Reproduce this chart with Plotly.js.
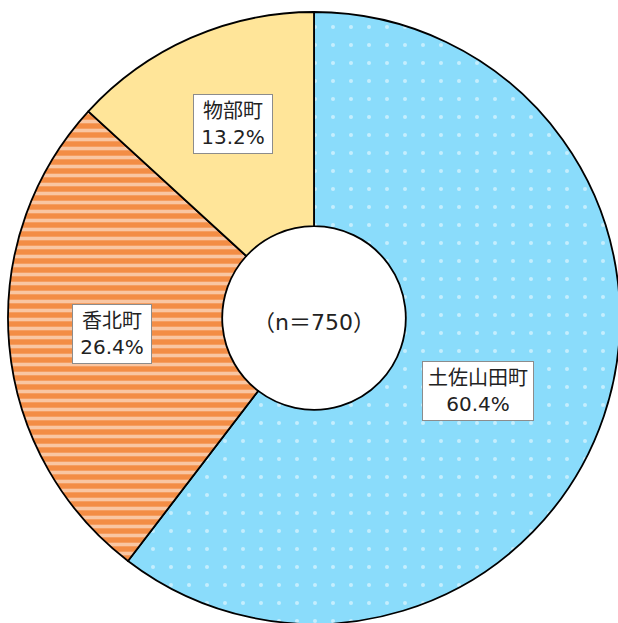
<!DOCTYPE html>
<html>
<head>
<meta charset="utf-8">
<script src="https://cdn.plot.ly/plotly-3.0.1.min.js"></script>
<style>
html,body{margin:0;padding:0;overflow:hidden;background:#fff;}
#chart{width:640px;height:640px;}
</style>
</head>
<body>
<div id="chart"></div>
<script>
const labels = ["土佐山田町", "香北町", "物部町"];
const values = [60.4, 26.4, 13.2];
const totalN = "750";
const colors = ["#8ADCFB", "#F38D45", "#FFE599"];
const shapes = [".", "-", ""];

const W = 640, H = 640;
const cx = 314, cy = 318, R = 306;

const trace = {
  type: "pie",
  labels: labels,
  values: values,
  sort: false,
  direction: "clockwise",
  rotation: 0,
  hole: 0.30,
  textinfo: "none",
  hoverinfo: "none",
  marker: {
    colors: colors,
    line: {color: "#000000", width: 1.8},
    pattern: {
      shape: shapes,
      fgcolor: "#ffffff",
      bgcolor: colors,
      size: [18, 9, 8],
      solidity: [0.04, 0.4, 0.3],
      fillmode: "overlay"
    }
  },
  domain: {
    x: [(cx - R) / W, (cx + R) / W],
    y: [(H - cy - R) / H, (H - cy + R) / H]
  },
  showlegend: false
};

const fontFam = "DejaVu Sans, Noto Sans CJK JP, sans-serif";
const labelPos = [[478, 391], [112, 334], [233, 124]];
const boxW = [102, 70, 70];
const annotations = labels.map((l, i) => ({
  x: labelPos[i][0] / W,
  y: 1 - labelPos[i][1] / H,
  xref: "paper", yref: "paper",
  xanchor: "center", yanchor: "middle",
  showarrow: false,
  text: l + "<br>" + values[i].toFixed(1) + "%",
  font: {family: fontFam, size: 20, color: "#222"},
  width: boxW[i],
  height: 50,
  bgcolor: "#ffffff",
  bordercolor: "#8c8c8c",
  borderwidth: 1,
  borderpad: 4
}));
annotations.push({
  x: 314 / W, y: 1 - 322 / H,
  xref: "paper", yref: "paper",
  xanchor: "center", yanchor: "middle",
  showarrow: false,
  text: "（n＝" + totalN + "）",
  font: {family: fontFam, size: 22, color: "#222"}
});

Plotly.newPlot("chart", [trace], {
  width: W, height: H,
  margin: {l: 0, r: 0, t: 0, b: 0},
  paper_bgcolor: "#ffffff",
  annotations: annotations
}, {staticPlot: true});
</script>
</body>
</html>
